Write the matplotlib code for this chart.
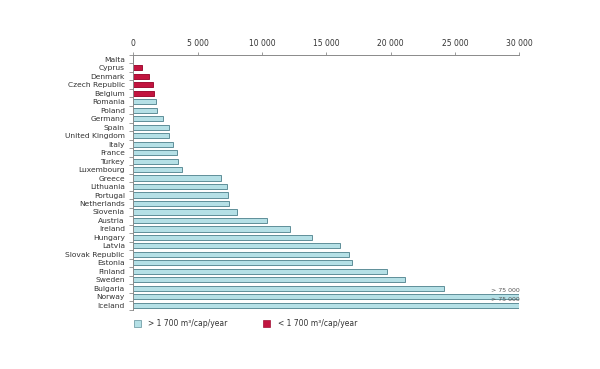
import matplotlib
matplotlib.use("Agg")
import matplotlib.pyplot as plt
from matplotlib.patches import Rectangle
import numpy as np

countries = ["Malta", "Cyprus", "Denmark", "Czech Republic", "Belgium", "Romania", "Poland",
             "Germany", "Spain", "United Kingdom", "Italy", "France", "Turkey", "Luxembourg",
             "Greece", "Lithuania", "Portugal", "Netherlands", "Slovenia", "Austria", "Ireland",
             "Hungary", "Latvia", "Slovak Republic", "Estonia", "Finland", "Sweden", "Bulgaria",
             "Norway", "Iceland"]
values = [0, 650, 1200, 1560, 1630, 1740, 1820, 2290, 2750, 2750, 3060, 3370, 3450, 3760,
          6800, 7260, 7340, 7420, 8040, 10370, 12160, 13870, 16070, 16800, 16980, 19700,
          21130, 24180, 75000, 75000]
xticks = [0, 5000, 10000, 15000, 20000, 25000, 30000]
xticklabels = ["0", "5 000", "10 000", "15 000", "20 000", "25 000", "30 000"]
overflow_label = "> 75 000"
legend_labels = ["> 1 700 m\u00b3/cap/year", "< 1 700 m\u00b3/cap/year"]
threshold = 1700
xmax = 30000

blue = "#b5e0e6"
blue_edge = "#5f8f99"
red = "#c2143f"
red_edge = "#a01034"
txt = "#333333"
axc = "#8a8a8a"

fig = plt.figure(figsize=(6, 3.69), dpi=100)
ax = fig.add_axes([0.222, 0.161, 0.6435, 0.690])

y = np.arange(len(countries))
plot_vals = [min(v, xmax) for v in values]
colors = [red if v < threshold else blue for v in values]
edges = [red_edge if v < threshold else blue_edge for v in values]
ax.barh(y, plot_vals, height=0.6, color=colors, edgecolor=edges, linewidth=0.7)

for i, v in enumerate(values):
    if v > xmax:
        ax.text(xmax, i - 0.40, overflow_label, ha="right", va="bottom", fontsize=4.5, color="#555555")

ax.set_xlim(0, xmax)
ax.set_ylim(len(countries) - 0.5, -0.5)
ax.xaxis.tick_top()
ax.set_xticks(xticks)
ax.set_xticklabels(xticklabels, fontsize=5.5, color=txt)
ax.set_yticks(y)
ax.set_yticklabels(countries, fontsize=5.4, color=txt)
ax.set_yticks(np.arange(len(countries) + 1) - 0.5, minor=True)
ax.tick_params(axis="y", which="major", length=0, pad=6)
ax.tick_params(axis="y", which="minor", length=3, color=axc, width=0.6)
ax.tick_params(axis="x", which="major", length=2.5, color=axc, width=0.6, pad=2.5)
for s in ["right", "bottom"]:
    ax.spines[s].set_visible(False)
for s in ["top", "left"]:
    ax.spines[s].set_color(axc)
    ax.spines[s].set_linewidth(0.7)

# legend
fig.patches.append(Rectangle((0.224, 0.114), 0.0115, 0.018, transform=fig.transFigure,
                             facecolor=blue, edgecolor=blue_edge, linewidth=0.5))
fig.text(0.247, 0.123, legend_labels[0], fontsize=5.5, color=txt, va="center")
fig.patches.append(Rectangle((0.439, 0.114), 0.0115, 0.018, transform=fig.transFigure,
                             facecolor=red, edgecolor=red_edge, linewidth=0.5))
fig.text(0.463, 0.123, legend_labels[1], fontsize=5.5, color=txt, va="center")

fig.savefig("out.png", dpi=100)
